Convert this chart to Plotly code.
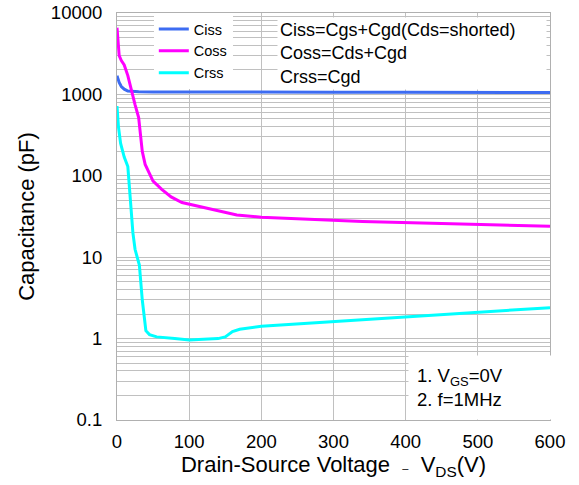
import plotly.graph_objects as go

# Drain-source voltage (V) and capacitances (pF)
vds_ciss = [0, 3, 6, 10, 15, 20, 30, 50, 100, 200, 300, 400, 500, 600]
ciss = [1700, 1400, 1250, 1160, 1100, 1085, 1075, 1070, 1065, 1065, 1065, 1060, 1060, 1055]

vds_coss = [0, 3, 6, 10, 15, 20, 25, 30, 35, 39, 45, 50, 62, 75, 90, 110, 130, 166, 200, 250, 340, 450, 600]
coss = [6600, 3000, 2600, 2300, 1700, 1100, 750, 520, 200, 138, 105, 86, 68, 55, 47, 43, 39, 33, 31, 29.5, 27.5, 26, 24]

vds_crss = [0, 2, 5, 10, 15, 18, 22, 25, 31, 35, 40, 45, 55, 80, 100, 140, 150, 160, 170, 200, 300, 400, 500, 600]
crss = [720, 400, 250, 170, 130, 60, 20, 12.5, 8, 3, 1.25, 1.12, 1.05, 1.0, 0.96, 1.0, 1.05, 1.22, 1.3, 1.42, 1.62, 1.85, 2.1, 2.4]

y_ticks = [0.1, 1, 10, 100, 1000, 10000]
y_labels = ["0.1", "1", "10", "100", "1000", "10000"]
x_ticks = [0, 100, 200, 300, 400, 500, 600]

# every 1..9 per decade gets a gridline, only decades get a label
grid_vals = []
grid_text = []
for d in range(-1, 4):
    for m in range(1, 10):
        v = m * 10 ** d
        grid_vals.append(v)
        grid_text.append(y_labels[y_ticks.index(v)] if m == 1 else "")
grid_vals.append(10000)
grid_text.append("10000")

fig = go.Figure()
fig.add_trace(go.Scatter(x=vds_ciss, y=ciss, mode="lines", name="Ciss",
                         line=dict(color="#3d6cf2", width=3)))
fig.add_trace(go.Scatter(x=vds_coss, y=coss, mode="lines", name="Coss",
                         line=dict(color="#ff00ff", width=3)))
fig.add_trace(go.Scatter(x=vds_crss, y=crss, mode="lines", name="Crss",
                         line=dict(color="#00ffff", width=3)))

fig.add_annotation(xref="paper", yref="paper", x=0.3695, y=0.9, xanchor="left", yanchor="middle",
                   text="Ciss=Cgs+Cgd(Cds=shorted)<br>Coss=Cds+Cgd<br>Crss=Cgd",
                   width=264, align="left", showarrow=False, bgcolor="white", borderpad=2,
                   font=dict(size=18, color="black"))
fig.add_annotation(xref="paper", yref="paper", x=0.672, y=0.0, xanchor="left", yanchor="bottom",
                   text="1. V<sub>GS</sub>=0V<br>2. f=1MHz", width=126, height=47,
                   align="left", showarrow=False, bgcolor="white", borderpad=8,
                   font=dict(size=18.5, color="black"))

fig.update_layout(
    width=579, height=485,
    margin=dict(l=117, r=29, t=13, b=65),
    plot_bgcolor="white", paper_bgcolor="white",
    font=dict(family="Liberation Sans, Arial", size=18, color="black"),
    legend=dict(x=0.085, y=1.0, xanchor="left", yanchor="top", bgcolor="white",
                font=dict(size=14.5), itemwidth=30, tracegroupgap=0),
    xaxis=dict(range=[0, 600], tickvals=x_ticks, showgrid=True, gridcolor="#c0c0c0",
               linecolor="#b0b0b0", mirror=True, showline=True, zeroline=False,
               ticks="", tickfont=dict(size=18.5), automargin=False, ticklabelstandoff=5,
               title=dict(text="Drain-Source Voltage  <span style='font-size:11px'>–</span>  V<sub>DS</sub>(V)",
                          font=dict(size=22), standoff=2)),
    yaxis=dict(type="log", range=[-1, 4], tickvals=grid_vals, ticktext=grid_text,
               showgrid=True, gridcolor="#c0c0c0", linecolor="#b0b0b0", mirror=True,
               showline=True, zeroline=False, ticks="", tickfont=dict(size=18.5),
               automargin=False, ticklabelstandoff=10,
               title=dict(text="Capacitance (pF)", font=dict(size=22), standoff=10)),
)

# page has a default 8px body margin; drop it so the chart sits at the window corner
fig.write_html("out.html", config={"displayModeBar": False},
               post_script="document.body.style.margin='0';")
